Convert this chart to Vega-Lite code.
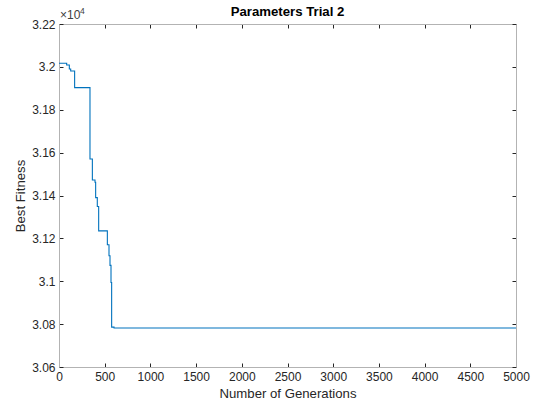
{
  "$schema": "https://vega.github.io/schema/vega-lite/v6.json",
  "autosize": {"type": "none"},
  "padding": {"left": 59, "top": 24, "right": 21, "bottom": 42},
  "width": 457,
  "height": 343,
  "background": "white",
  "config": {
    "view": {"stroke": null},
    "font": "Liberation Sans",
    "axis": {
      "domainColor": "#b3b3b3",
      "domainWidth": 1,
      "tickColor": "#262626",
      "tickSize": -4,
      "tickWidth": 1,
      "labelColor": "#262626",
      "labelFontSize": 12,
      "labelFont": "Liberation Sans",
      "titleFont": "Liberation Sans",
      "titleFontSize": 13.2,
      "titleFontWeight": "normal",
      "titleColor": "#262626",
      "grid": false
    }
  },
  "title": {
    "text": "Parameters Trial 2",
    "fontSize": 13.2,
    "fontWeight": "bold",
    "color": "#000000",
    "font": "Liberation Sans",
    "offset": -12.5,
    "anchor": "middle"
  },
  "data": {
    "values": [
      {"gen": 0, "fit": 32017},
      {"gen": 84, "fit": 32009},
      {"gen": 113, "fit": 31990},
      {"gen": 128, "fit": 31981},
      {"gen": 171, "fit": 31903},
      {"gen": 339, "fit": 31570},
      {"gen": 365, "fit": 31472},
      {"gen": 394, "fit": 31462},
      {"gen": 401, "fit": 31390},
      {"gen": 419, "fit": 31349},
      {"gen": 434, "fit": 31235},
      {"gen": 529, "fit": 31170},
      {"gen": 547, "fit": 31119},
      {"gen": 558, "fit": 31074},
      {"gen": 569, "fit": 30994},
      {"gen": 576, "fit": 30786},
      {"gen": 602, "fit": 30782},
      {"gen": 5000, "fit": 30782}
    ]
  },
  "resolve": {"axis": {"x": "independent", "y": "independent"}},
  "layer": [
    {
      "mark": {"type": "line", "interpolate": "step-after", "color": "#0072BD", "strokeWidth": 1.1, "clip": true},
      "encoding": {
        "x": {
          "field": "gen", "type": "quantitative",
          "scale": {"domain": [0, 5000], "nice": false, "zero": false},
          "axis": {"values": [0,500,1000,1500,2000,2500,3000,3500,4000,4500,5000], "format": "d", "title": "Number of Generations", "labelPadding": 8, "titlePadding": 5, "labelFlush": false}
        },
        "y": {
          "field": "fit", "type": "quantitative",
          "scale": {"domain": [30600, 32200], "nice": false, "zero": false},
          "axis": {"values": [30600,30800,31000,31200,31400,31600,31800,32000,32200], "labelExpr": "'' + round(datum.value/100)/100", "title": "Best Fitness", "labelPadding": 8, "titlePadding": 4}
        }
      }
    },
    {
      "mark": {"type": "line", "opacity": 0},
      "encoding": {
        "x": {
          "field": "gen", "type": "quantitative",
          "scale": {"domain": [0, 5000], "nice": false, "zero": false},
          "axis": {"orient": "top", "values": [0,500,1000,1500,2000,2500,3000,3500,4000,4500,5000], "labels": false, "title": null}
        },
        "y": {
          "field": "fit", "type": "quantitative",
          "scale": {"domain": [30600, 32200], "nice": false, "zero": false},
          "axis": {"orient": "right", "values": [30600,30800,31000,31200,31400,31600,31800,32000,32200], "labels": false, "title": null}
        }
      }
    },
    {
      "data": {"values": [{"gen": 0, "fit": 32200, "t": "×10"}]},
      "mark": {"type": "text", "align": "left", "baseline": "alphabetic", "dx": 1, "dy": -5, "fontSize": 12, "color": "#404040", "font": "Liberation Sans"},
      "encoding": {
        "x": {"field": "gen", "type": "quantitative", "scale": {"domain": [0, 5000], "nice": false, "zero": false}, "axis": null},
        "y": {"field": "fit", "type": "quantitative", "scale": {"domain": [30600, 32200], "nice": false, "zero": false}, "axis": null},
        "text": {"field": "t"}
      }
    },
    {
      "data": {"values": [{"gen": 0, "fit": 32200, "t": "4"}]},
      "mark": {"type": "text", "align": "left", "baseline": "alphabetic", "dx": 21, "dy": -10, "fontSize": 8.5, "color": "#404040", "font": "Liberation Sans"},
      "encoding": {
        "x": {"field": "gen", "type": "quantitative", "scale": {"domain": [0, 5000], "nice": false, "zero": false}, "axis": null},
        "y": {"field": "fit", "type": "quantitative", "scale": {"domain": [30600, 32200], "nice": false, "zero": false}, "axis": null},
        "text": {"field": "t"}
      }
    }
  ]
}
